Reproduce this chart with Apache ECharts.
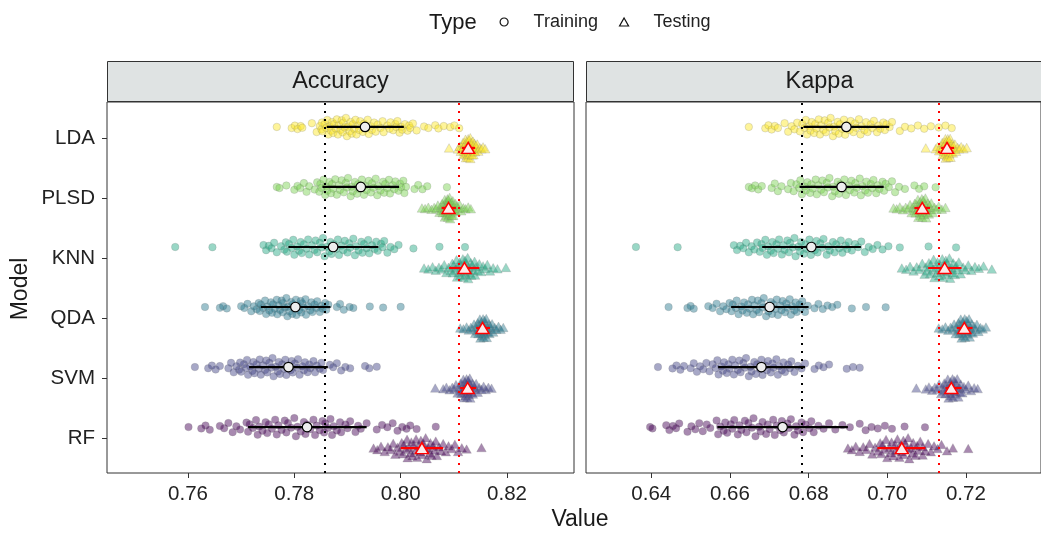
<!DOCTYPE html>
<html>
<head>
<meta charset="utf-8">
<script src="https://cdn.jsdelivr.net/npm/echarts@6/dist/echarts.min.js"></script>
<style>
html,body{margin:0;padding:0;background:#fff;}
#chart{width:1041px;height:534px;}
</style>
</head>
<body>
<div id="chart"></div>
<script>
// ---------------- DATA ----------------
const models = ['LDA', 'PLSD', 'KNN', 'QDA', 'SVM', 'RF'];
const facets = ['Accuracy', 'Kappa'];
const legendTypes = ['Training', 'Testing'];

const accTicks = [0.76, 0.78, 0.80, 0.82];
const kapTicks = [0.64, 0.66, 0.68, 0.70, 0.72];

const accRefTrain = 0.7858;
const accRefTest = 0.8110;
const kapRefTrain = 0.6783;
const kapRefTest = 0.7131;

// summary (mean, low, high) in model order LDA..RF
const accTrainMean = [0.7933, 0.7925, 0.7873, 0.7802, 0.7789, 0.7824];
const accTrainLow  = [0.7861, 0.7853, 0.7789, 0.7737, 0.7715, 0.7713];
const accTrainHigh = [0.8006, 0.7997, 0.7958, 0.7868, 0.7863, 0.7936];
const accTestMean  = [0.8127, 0.8090, 0.8120, 0.8154, 0.8126, 0.8040];
const accTestLow   = [0.8115, 0.8077, 0.8091, 0.8142, 0.8112, 0.8000];
const accTestHigh  = [0.8140, 0.8104, 0.8148, 0.8168, 0.8142, 0.8080];
const kapTrainMean = [0.6896, 0.6884, 0.6807, 0.6701, 0.6680, 0.6734];
const kapTrainLow  = [0.6787, 0.6777, 0.6682, 0.6603, 0.6570, 0.6568];
const kapTrainHigh = [0.7005, 0.6991, 0.6933, 0.6800, 0.6791, 0.6900];
const kapTestMean  = [0.7152, 0.7089, 0.7146, 0.7196, 0.7163, 0.7037];
const kapTestLow   = [0.7137, 0.7069, 0.7104, 0.7177, 0.7148, 0.6975];
const kapTestHigh  = [0.7170, 0.7109, 0.7189, 0.7217, 0.7189, 0.7097];

// Accuracy – training resamples
const acc_train_LDA = [0.7767,0.7795,0.7801,0.7806,0.7812,0.7815,0.7833,0.7842,0.7848,0.7851,0.7853,0.7857,0.7860,0.7862,0.7866,0.7869,0.7871,0.7875,0.7878,0.7880,0.7884,0.7887,0.7889,0.7892,0.7895,0.7897,0.7901,0.7904,0.7906,0.7910,0.7913,0.7917,0.7920,0.7924,0.7929,0.7935,0.7940,0.7946,0.7950,0.7957,0.7962,0.7968,0.7975,0.7981,0.7986,0.7990,0.7994,0.7998,0.8003,0.8008,0.8013,0.8018,0.8023,0.8030,0.8044,0.8052,0.8065,0.8071,0.8081,0.8093,0.8101,0.8110,
  0.7852,0.7864,0.7873,0.7882,0.7891,0.7899,0.7908,0.7915,0.7922,0.7931,0.7938,0.7944,0.7953,0.7966,0.7979,0.7992,0.8001,0.8016];
const acc_train_PLSD = [0.7767,0.7772,0.7785,0.7800,0.7806,0.7811,0.7818,0.7823,0.7828,0.7838,0.7843,0.7847,0.7851,0.7855,0.7858,0.7862,0.7866,0.7869,0.7873,0.7877,0.7880,0.7884,0.7889,0.7893,0.7897,0.7901,0.7906,0.7910,0.7914,0.7918,0.7922,0.7927,0.7931,0.7936,0.7940,0.7944,0.7949,0.7953,0.7958,0.7962,0.7967,0.7971,0.7975,0.7980,0.7985,0.7990,0.7996,0.8001,0.8005,0.8010,0.8026,0.8033,0.8041,0.8050,0.8087,
  0.7849,0.7860,0.7871,0.7886,0.7899,0.7908,0.7920,0.7933,0.7946,0.7956,0.7969,0.7978,0.7988,0.7999,0.8007];
const acc_train_KNN = [0.7576,0.7646,0.7742,0.7747,0.7752,0.7757,0.7762,0.7767,0.7775,0.7781,0.7786,0.7790,0.7795,0.7800,0.7805,0.7809,0.7814,0.7818,0.7823,0.7828,0.7833,0.7838,0.7843,0.7848,0.7852,0.7857,0.7861,0.7866,0.7870,0.7874,0.7879,0.7884,0.7889,0.7895,0.7900,0.7905,0.7911,0.7916,0.7921,0.7926,0.7931,0.7936,0.7941,0.7946,0.7951,0.7957,0.7963,0.7969,0.7975,0.7981,0.7988,0.7996,0.8024,0.8073,0.8121,
  0.7784,0.7798,0.7812,0.7826,0.7840,0.7854,0.7868,0.7882,0.7892,0.7903,0.7914,0.7928,0.7939,0.7954,0.7966];
const acc_train_QDA = [0.7632,0.7660,0.7666,0.7673,0.7700,0.7706,0.7712,0.7719,0.7724,0.7729,0.7733,0.7737,0.7741,0.7745,0.7749,0.7753,0.7756,0.7760,0.7763,0.7767,0.7770,0.7773,0.7776,0.7779,0.7782,0.7785,0.7788,0.7791,0.7794,0.7797,0.7800,0.7803,0.7806,0.7809,0.7812,0.7815,0.7818,0.7822,0.7826,0.7830,0.7834,0.7838,0.7843,0.7848,0.7853,0.7858,0.7864,0.7880,0.7886,0.7893,0.7904,0.7911,0.7942,0.7967,0.8000,
  0.7735,0.7747,0.7758,0.7768,0.7778,0.7787,0.7796,0.7804,0.7813,0.7821,0.7832,0.7841,0.7851,0.7860];
const acc_train_SVM = [0.7613,0.7638,0.7645,0.7652,0.7660,0.7676,0.7681,0.7686,0.7691,0.7696,0.7700,0.7705,0.7709,0.7713,0.7717,0.7721,0.7725,0.7729,0.7733,0.7737,0.7741,0.7745,0.7749,0.7753,0.7757,0.7761,0.7765,0.7769,0.7773,0.7777,0.7781,0.7785,0.7789,0.7793,0.7797,0.7801,0.7805,0.7810,0.7815,0.7820,0.7825,0.7830,0.7836,0.7842,0.7848,0.7854,0.7867,0.7873,0.7880,0.7888,0.7896,0.7905,0.7933,0.7941,0.7955,
  0.7698,0.7711,0.7723,0.7735,0.7747,0.7759,0.7771,0.7783,0.7795,0.7807,0.7818,0.7828,0.7839,0.7851];
const acc_train_RF = [0.7601,0.7625,0.7633,0.7641,0.7660,0.7668,0.7676,0.7684,0.7691,0.7698,0.7710,0.7716,0.7722,0.7728,0.7734,0.7740,0.7746,0.7752,0.7758,0.7764,0.7770,0.7776,0.7782,0.7788,0.7794,0.7800,0.7806,0.7812,0.7818,0.7824,0.7830,0.7836,0.7842,0.7848,0.7853,0.7858,0.7863,0.7868,0.7874,0.7880,0.7888,0.7896,0.7905,0.7915,0.7925,0.7936,0.7955,0.7965,0.7975,0.7985,0.7994,0.8003,0.8011,0.8018,0.8030,0.8066,
  0.7713,0.7731,0.7749,0.7767,0.7785,0.7803,0.7821,0.7839,0.7856,0.7871,0.7886,0.7900,0.7920];

// Accuracy – testing resamples
const acc_test_LDA = [0.8091,0.8108,0.8111,0.8113,0.8114,0.8116,0.8117,0.8118,0.8119,0.8120,0.8121,0.8121,0.8122,0.8123,0.8124,0.8124,0.8125,0.8126,0.8126,0.8127,0.8127,0.8128,0.8128,0.8129,0.8130,0.8130,0.8131,0.8132,0.8132,0.8133,0.8134,0.8135,0.8136,0.8137,0.8138,0.8139,0.8140,0.8142,0.8144,0.8146,0.8149,0.8152,0.8155,0.8159,
  0.8118,0.8122,0.8125,0.8129,0.8131,0.8134,0.8137,0.8141];
const acc_test_PLSD = [0.8040,0.8046,0.8052,0.8058,0.8063,0.8067,0.8070,0.8073,0.8075,0.8077,0.8079,0.8080,0.8082,0.8083,0.8084,0.8085,0.8086,0.8087,0.8088,0.8088,0.8089,0.8090,0.8090,0.8091,0.8092,0.8092,0.8093,0.8094,0.8095,0.8096,0.8097,0.8098,0.8099,0.8101,0.8102,0.8104,0.8106,0.8108,0.8111,0.8114,0.8118,0.8122,0.8127,0.8132,
  0.8078,0.8083,0.8086,0.8089,0.8091,0.8094,0.8098,0.8103];
const acc_test_KNN = [0.8044,0.8052,0.8060,0.8066,0.8072,0.8077,0.8082,0.8086,0.8090,0.8094,0.8097,0.8100,0.8103,0.8105,0.8107,0.8109,0.8111,0.8113,0.8115,0.8117,0.8119,0.8120,0.8121,0.8122,0.8124,0.8126,0.8128,0.8130,0.8132,0.8134,0.8137,0.8139,0.8142,0.8145,0.8148,0.8151,0.8155,0.8159,0.8163,0.8168,0.8174,0.8182,0.8198,
  0.8098,0.8106,0.8112,0.8118,0.8123,0.8127,0.8133,0.8140];
const acc_test_QDA = [0.8112,0.8118,0.8124,0.8128,0.8132,0.8135,0.8138,0.8140,0.8142,0.8144,0.8146,0.8147,0.8148,0.8149,0.8150,0.8151,0.8152,0.8153,0.8154,0.8155,0.8156,0.8157,0.8158,0.8159,0.8160,0.8161,0.8163,0.8164,0.8166,0.8168,0.8170,0.8172,0.8174,0.8177,0.8180,0.8184,0.8188,0.8193,
  0.8145,0.8150,0.8153,0.8156,0.8158,0.8162,0.8167];
const acc_test_SVM = [0.8065,0.8080,0.8086,0.8092,0.8097,0.8101,0.8104,0.8107,0.8110,0.8112,0.8114,0.8116,0.8118,0.8119,0.8120,0.8121,0.8122,0.8123,0.8124,0.8125,0.8126,0.8127,0.8128,0.8129,0.8130,0.8131,0.8133,0.8134,0.8136,0.8138,0.8140,0.8142,0.8145,0.8148,0.8152,0.8156,0.8160,0.8165,0.8171,
  0.8113,0.8117,0.8121,0.8124,0.8127,0.8130,0.8135];
const acc_test_RF = [0.7949,0.7956,0.7963,0.7970,0.7976,0.7981,0.7986,0.7990,0.7994,0.7998,0.8002,0.8006,0.8010,0.8013,0.8016,0.8019,0.8022,0.8025,0.8028,0.8031,0.8034,0.8037,0.8040,0.8043,0.8046,0.8049,0.8052,0.8055,0.8058,0.8061,0.8064,0.8068,0.8072,0.8076,0.8080,0.8085,0.8090,0.8096,0.8102,0.8108,0.8115,0.8124,0.8152,
  0.8004,0.8012,0.8020,0.8029,0.8038,0.8047,0.8056,0.8066];

// Kappa – training resamples
const kap_train_LDA = [0.6648,0.6690,0.6698,0.6706,0.6714,0.6722,0.6739,0.6748,0.6757,0.6764,0.6771,0.6778,0.6784,0.6790,0.6796,0.6802,0.6808,0.6814,0.6820,0.6826,0.6832,0.6838,0.6844,0.6850,0.6856,0.6862,0.6868,0.6874,0.6880,0.6886,0.6893,0.6900,0.6907,0.6914,0.6921,0.6928,0.6935,0.6942,0.6950,0.6958,0.6966,0.6974,0.6982,0.6990,0.6998,0.7006,0.7012,0.7032,0.7045,0.7061,0.7078,0.7094,0.7111,0.7131,0.7148,0.7164,
  0.6793,0.6805,0.6817,0.6829,0.6841,0.6853,0.6865,0.6877,0.6890,0.6904,0.6918,0.6932,0.6946,0.6962,0.6978,0.6994];
const kap_train_PLSD = [0.6648,0.6656,0.6664,0.6672,0.6681,0.6706,0.6714,0.6722,0.6731,0.6748,0.6755,0.6762,0.6769,0.6776,0.6783,0.6790,0.6797,0.6804,0.6811,0.6818,0.6825,0.6832,0.6839,0.6846,0.6853,0.6860,0.6867,0.6874,0.6881,0.6888,0.6895,0.6902,0.6909,0.6916,0.6923,0.6930,0.6937,0.6944,0.6951,0.6958,0.6965,0.6972,0.6980,0.6988,0.6996,0.7004,0.7012,0.7020,0.7030,0.7045,0.7069,0.7081,0.7094,0.7123,
  0.6779,0.6793,0.6807,0.6821,0.6835,0.6849,0.6863,0.6877,0.6891,0.6905,0.6919,0.6933,0.6947,0.6962,0.6976,0.6992];
const kap_train_KNN = [0.6361,0.6467,0.6610,0.6618,0.6626,0.6634,0.6641,0.6648,0.6655,0.6662,0.6669,0.6676,0.6683,0.6690,0.6697,0.6704,0.6711,0.6718,0.6725,0.6732,0.6739,0.6746,0.6753,0.6760,0.6767,0.6774,0.6781,0.6788,0.6795,0.6802,0.6809,0.6816,0.6823,0.6830,0.6838,0.6846,0.6854,0.6862,0.6870,0.6878,0.6886,0.6894,0.6902,0.6910,0.6918,0.6926,0.6934,0.6943,0.6953,0.6963,0.6975,0.6988,0.7003,0.7032,0.7105,0.7175,
  0.6680,0.6694,0.6708,0.6722,0.6736,0.6750,0.6764,0.6778,0.6792,0.6806,0.6820,0.6835,0.6850,0.6866,0.6882,0.6898];
const kap_train_QDA = [0.6444,0.6492,0.6500,0.6508,0.6545,0.6556,0.6566,0.6575,0.6583,0.6591,0.6599,0.6607,0.6615,0.6622,0.6629,0.6636,0.6643,0.6650,0.6656,0.6662,0.6668,0.6674,0.6680,0.6686,0.6692,0.6698,0.6704,0.6710,0.6716,0.6722,0.6728,0.6734,0.6740,0.6746,0.6752,0.6758,0.6764,0.6770,0.6777,0.6784,0.6791,0.6798,0.6815,0.6825,0.6836,0.6848,0.6860,0.6873,0.6910,0.6946,0.6996,
  0.6604,0.6617,0.6632,0.6646,0.6659,0.6671,0.6683,0.6695,0.6707,0.6719,0.6731,0.6743,0.6755,0.6767,0.6780];
const kap_train_SVM = [0.6417,0.6454,0.6464,0.6474,0.6483,0.6500,0.6508,0.6516,0.6524,0.6532,0.6540,0.6548,0.6556,0.6564,0.6571,0.6578,0.6585,0.6592,0.6599,0.6606,0.6613,0.6620,0.6627,0.6634,0.6641,0.6648,0.6655,0.6662,0.6669,0.6676,0.6683,0.6690,0.6697,0.6704,0.6711,0.6718,0.6725,0.6732,0.6740,0.6748,0.6756,0.6764,0.6773,0.6782,0.6791,0.6815,0.6826,0.6838,0.6852,0.6897,0.6913,0.6930,
  0.6568,0.6582,0.6596,0.6610,0.6624,0.6638,0.6652,0.6666,0.6680,0.6694,0.6708,0.6722,0.6736,0.6752];
const kap_train_RF = [0.6397,0.6403,0.6438,0.6446,0.6455,0.6463,0.6471,0.6492,0.6502,0.6512,0.6522,0.6531,0.6541,0.6550,0.6566,0.6575,0.6584,0.6593,0.6602,0.6611,0.6620,0.6629,0.6638,0.6647,0.6656,0.6665,0.6674,0.6683,0.6692,0.6701,0.6710,0.6719,0.6728,0.6737,0.6746,0.6755,0.6764,0.6773,0.6782,0.6792,0.6802,0.6813,0.6825,0.6838,0.6852,0.6868,0.6886,0.6905,0.6930,0.6945,0.6960,0.6976,0.6994,0.7012,0.7044,0.7096,
  0.6570,0.6588,0.6606,0.6624,0.6642,0.6660,0.6678,0.6696,0.6714,0.6732,0.6750,0.6768,0.6786,0.6807];

// Kappa – testing resamples
const kap_test_LDA = [0.7098,0.7123,0.7128,0.7132,0.7135,0.7138,0.7140,0.7142,0.7144,0.7145,0.7146,0.7147,0.7148,0.7149,0.7150,0.7151,0.7152,0.7153,0.7154,0.7155,0.7156,0.7157,0.7158,0.7159,0.7160,0.7161,0.7163,0.7165,0.7167,0.7169,0.7172,0.7175,0.7179,0.7183,0.7188,0.7194,0.7202,
  0.7141,0.7146,0.7150,0.7153,0.7156,0.7159,0.7163,0.7168];
const kap_test_PLSD = [0.7016,0.7024,0.7032,0.7040,0.7047,0.7053,0.7058,0.7062,0.7066,0.7069,0.7072,0.7075,0.7077,0.7079,0.7081,0.7083,0.7085,0.7087,0.7088,0.7089,0.7090,0.7091,0.7093,0.7095,0.7097,0.7099,0.7101,0.7103,0.7106,0.7109,0.7112,0.7116,0.7120,0.7125,0.7131,0.7139,0.7148,
  0.7070,0.7078,0.7084,0.7088,0.7092,0.7096,0.7102,0.7108];
const kap_test_KNN = [0.7037,0.7048,0.7058,0.7067,0.7075,0.7082,0.7089,0.7095,0.7101,0.7106,0.7111,0.7116,0.7120,0.7124,0.7128,0.7132,0.7136,0.7140,0.7143,0.7146,0.7149,0.7152,0.7156,0.7160,0.7164,0.7168,0.7172,0.7177,0.7182,0.7187,0.7193,0.7199,0.7206,0.7214,0.7223,0.7233,0.7245,0.7266,
  0.7098,0.7109,0.7118,0.7126,0.7134,0.7142,0.7150,0.7158,0.7166,0.7175];
const kap_test_QDA = [0.7131,0.7140,0.7148,0.7155,0.7161,0.7166,0.7170,0.7174,0.7177,0.7180,0.7183,0.7185,0.7187,0.7189,0.7191,0.7193,0.7195,0.7196,0.7198,0.7200,0.7202,0.7204,0.7206,0.7208,0.7210,0.7212,0.7215,0.7218,0.7221,0.7224,0.7228,0.7232,0.7237,0.7243,0.7251,
  0.7181,0.7186,0.7190,0.7194,0.7197,0.7201,0.7206,0.7213];
const kap_test_SVM = [0.7074,0.7098,0.7106,0.7114,0.7121,0.7127,0.7132,0.7137,0.7141,0.7145,0.7148,0.7151,0.7154,0.7157,0.7159,0.7161,0.7163,0.7165,0.7167,0.7169,0.7171,0.7173,0.7175,0.7178,0.7181,0.7184,0.7187,0.7191,0.7195,0.7200,0.7206,0.7213,0.7221,0.7230,
  0.7143,0.7150,0.7156,0.7162,0.7166,0.7170,0.7177,0.7185];
const kap_test_RF = [0.6900,0.6910,0.6920,0.6930,0.6939,0.6947,0.6955,0.6962,0.6969,0.6976,0.6982,0.6988,0.6994,0.7000,0.7006,0.7011,0.7016,0.7021,0.7026,0.7031,0.7036,0.7041,0.7046,0.7051,0.7056,0.7061,0.7066,0.7072,0.7078,0.7084,0.7090,0.7097,0.7104,0.7111,0.7119,0.7128,0.7138,0.7152,0.7167,0.7206,
  0.6985,0.6997,0.7009,0.7020,0.7031,0.7042,0.7053,0.7064,0.7076,0.7090];

// ---------------- BUILD ----------------
const accTrain = [acc_train_LDA, acc_train_PLSD, acc_train_KNN, acc_train_QDA, acc_train_SVM, acc_train_RF];
const accTest  = [acc_test_LDA, acc_test_PLSD, acc_test_KNN, acc_test_QDA, acc_test_SVM, acc_test_RF];
const kapTrain = [kap_train_LDA, kap_train_PLSD, kap_train_KNN, kap_train_QDA, kap_train_SVM, kap_train_RF];
const kapTest  = [kap_test_LDA, kap_test_PLSD, kap_test_KNN, kap_test_QDA, kap_test_SVM, kap_test_RF];

const palette = ['#FDE725', '#7AD151', '#22A884', '#2A788E', '#414487', '#440154'];
function rgba(hex, a) {
  const n = parseInt(hex.slice(1), 16);
  return 'rgba(' + ((n >> 16) & 255) + ',' + ((n >> 8) & 255) + ',' + (n & 255) + ',' + a + ')';
}
const FONT = 'Liberation Sans, Arial, Helvetica, sans-serif';
const dTrain = 0.185, dTest = -0.165, swarmTrain = 0.16, swarmTest = 0.19;

// deterministic quasirandom (van der Corput) offsets scaled by local density
function vdc(n) { let v = 0, d = 1; while (n > 0) { d *= 2; v += (n % 2) / d; n = Math.floor(n / 2); } return v; }
function swarm(vals, center, half) {
  const s = vals.slice().sort((a, b) => a - b);
  const m = s.reduce((a, b) => a + b, 0) / s.length;
  const sd = Math.sqrt(s.reduce((a, b) => a + (b - m) * (b - m), 0) / s.length);
  const bw = 0.9 * sd * Math.pow(s.length, -0.2);
  const dens = s.map(x => s.reduce((acc, v) => acc + Math.exp(-0.5 * Math.pow((x - v) / bw, 2)), 0));
  const mx = Math.max.apply(null, dens);
  return s.map((x, i) => [x, center + (vdc(i + 1) * 2 - 1) * half * dens[i] / mx]);
}

const series = [];
function addPanel(gi, trainSets, testSets, tMean, tLow, tHigh, sMean, sLow, sHigh, refTrain, refTest) {
  models.forEach((m, i) => {
    const yc = 6 - i;
    series.push({
      type: 'scatter', name: legendTypes[0], xAxisIndex: gi, yAxisIndex: gi, silent: true, z: 2,
      symbol: 'circle', symbolSize: 7.5,
      itemStyle: { color: rgba(palette[i], 0.58), borderColor: 'rgba(120,120,120,0.4)', borderWidth: 0.7 },
      data: swarm(trainSets[i], yc + dTrain, swarmTrain)
    });
    series.push({
      type: 'scatter', name: legendTypes[1], xAxisIndex: gi, yAxisIndex: gi, silent: true, z: 2,
      symbol: 'triangle', symbolSize: [9.5, 8.5],
      itemStyle: { color: rgba(palette[i], 0.58), borderColor: 'rgba(120,120,120,0.4)', borderWidth: 0.7 },
      data: swarm(testSets[i], yc + dTest, swarmTest)
    });
  });
  const bar = (color, lo, hi, d) => ({
    type: 'custom', name: 'bar' + color, xAxisIndex: gi, yAxisIndex: gi, silent: true, z: 6,
    data: models.map((m, i) => [lo[i], hi[i], 6 - i + d]),
    encode: { x: [0, 1], y: 2 },
    renderItem: function (params, api) {
      const p1 = api.coord([api.value(0), api.value(2)]);
      const p2 = api.coord([api.value(1), api.value(2)]);
      return { type: 'line', shape: { x1: p1[0], y1: p1[1], x2: p2[0], y2: p2[1] },
               style: { stroke: color, lineWidth: 2.2 } };
    }
  });
  const refLine = (color, ref) => ({
    silent: true, symbol: 'none', label: { show: false }, animation: false, z: 4, precision: 6,
    lineStyle: { color: color, type: [2, 6], width: 2, cap: 'butt' },
    data: [{ xAxis: ref }]
  });
  series.push(bar('#000000', tLow, tHigh, dTrain));
  series.push(bar('#FF0000', sLow, sHigh, dTest));
  series.push({
    type: 'scatter', name: 'meanTrain', xAxisIndex: gi, yAxisIndex: gi, silent: true, z: 8,
    symbol: 'circle', symbolSize: 9.5,
    itemStyle: { color: '#EDEDED', borderColor: '#000', borderWidth: 1.2, opacity: 1 },
    data: models.map((m, i) => [tMean[i], 6 - i + dTrain]),
    markLine: refLine('#000000', refTrain)
  });
  series.push({
    type: 'scatter', name: 'meanTest', xAxisIndex: gi, yAxisIndex: gi, silent: true, z: 8,
    symbol: 'triangle', symbolSize: [13, 11],
    itemStyle: { color: '#FCEAEA', borderColor: '#FF0000', borderWidth: 1.5, opacity: 1 },
    data: models.map((m, i) => [sMean[i], 6 - i + dTest]),
    markLine: refLine('#FF0000', refTest)
  });
}
addPanel(0, accTrain, accTest, accTrainMean, accTrainLow, accTrainHigh, accTestMean, accTestLow, accTestHigh, accRefTrain, accRefTest);
addPanel(1, kapTrain, kapTest, kapTrainMean, kapTrainLow, kapTrainHigh, kapTestMean, kapTestLow, kapTestHigh, kapRefTrain, kapRefTest);

const xAxisBase = (gi, min, max, ticks) => ({
  type: 'value', gridIndex: gi, min: min, max: max,
  splitLine: { show: false },
  axisLine: { show: false },
  axisTick: { show: true, customValues: ticks, length: 5, lineStyle: { color: '#333', width: 1 } },
  axisLabel: { customValues: ticks, formatter: v => v.toFixed(2), fontSize: 20.5, color: '#222', margin: 11, fontFamily: FONT }
});
const yAxisBase = (gi, showLabels) => ({
  type: 'value', gridIndex: gi, min: 0.42, max: 6.6,
  splitLine: { show: false },
  axisLine: { show: false },
  axisTick: { show: showLabels, customValues: [1, 2, 3, 4, 5, 6], length: 5, lineStyle: { color: '#333', width: 1 } },
  axisLabel: { show: showLabels, customValues: [1, 2, 3, 4, 5, 6], formatter: v => models[6 - Math.round(v)],
               fontSize: 20.5, color: '#222', margin: 12, fontFamily: FONT }
});

const chart = echarts.init(document.getElementById('chart'), null, { renderer: 'canvas' });
chart.setOption({
  animation: false,
  backgroundColor: '#ffffff',
  textStyle: { fontFamily: FONT },
  grid: [
    { left: 107, top: 102, width: 467, height: 371, show: true, borderColor: '#333', borderWidth: 1, backgroundColor: '#fff' },
    { left: 586, top: 102, width: 467, height: 371, show: true, borderColor: '#333', borderWidth: 1, backgroundColor: '#fff' }
  ],
  xAxis: [xAxisBase(0, 0.74477, 0.8326, accTicks), xAxisBase(1, 0.6234, 0.7391, kapTicks)],
  yAxis: [yAxisBase(0, true), yAxisBase(1, false)],
  legend: {
    left: 499.5, top: 13, padding: 0, itemGap: 21, itemWidth: 9, itemHeight: 8,
    symbolKeepAspect: true, selectedMode: false,
    textStyle: { fontSize: 18, color: '#222', fontFamily: FONT, padding: [0, 0, 0, 20] },
    data: [
      { name: legendTypes[0], icon: 'circle', itemStyle: { color: '#fff', borderColor: '#111', borderWidth: 1.2, opacity: 1 } },
      { name: legendTypes[1], icon: 'triangle', itemStyle: { color: '#fff', borderColor: '#111', borderWidth: 1.2, opacity: 1 } }
    ]
  },
  graphic: [
    { type: 'rect', shape: { x: 107.5, y: 61.5, width: 466, height: 40 }, style: { fill: '#DFE3E3', stroke: '#333', lineWidth: 1 }, z: 1 },
    { type: 'rect', shape: { x: 586.5, y: 61.5, width: 466, height: 40 }, style: { fill: '#DFE3E3', stroke: '#333', lineWidth: 1 }, z: 1 },
    { type: 'text', x: 340.5, y: 82, style: { text: facets[0], fontSize: 23.5, fill: '#1a1a1a', align: 'center', verticalAlign: 'middle', fontFamily: FONT }, z: 2 },
    { type: 'text', x: 819.5, y: 82, style: { text: facets[1], fontSize: 23.5, fill: '#1a1a1a', align: 'center', verticalAlign: 'middle', fontFamily: FONT }, z: 2 },
    { type: 'text', x: 429, y: 23, style: { text: 'Type', fontSize: 22, fill: '#1a1a1a', align: 'left', verticalAlign: 'middle', fontFamily: FONT } },
    { type: 'text', x: 580, y: 520, style: { text: 'Value', fontSize: 23, fill: '#1a1a1a', align: 'center', verticalAlign: 'middle', fontFamily: FONT } },
    { type: 'text', x: 21, y: 289, rotation: Math.PI / 2, style: { text: 'Model', fontSize: 23, fill: '#1a1a1a', align: 'center', verticalAlign: 'middle', fontFamily: FONT } }
  ],
  series: series
});
</script>
</body>
</html>
